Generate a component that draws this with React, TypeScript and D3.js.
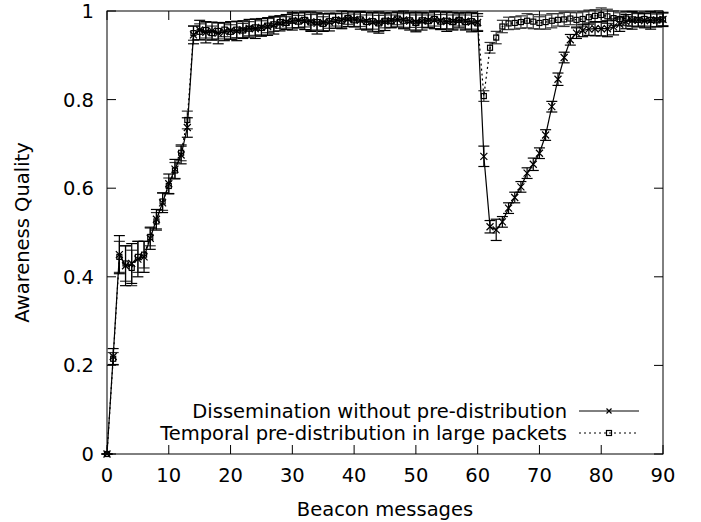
import React from "react";
import * as d3 from "d3";

// x = beacon message index 0..90
const series1Name = "Dissemination without pre-distribution";
const series2Name = "Temporal pre-distribution in large packets";

const s1: number[] = [
  0, 0.22, 0.45, 0.425, 0.43, 0.44, 0.445, 0.487, 0.53, 0.567,
  0.61, 0.643, 0.675, 0.737, 0.946, 0.957, 0.952, 0.955, 0.95, 0.953,
  0.956, 0.955, 0.958, 0.961, 0.96, 0.963, 0.965, 0.968, 0.972, 0.975,
  0.977, 0.979, 0.978, 0.976, 0.972, 0.974, 0.975, 0.978, 0.98, 0.982,
  0.981, 0.979, 0.977, 0.975, 0.974, 0.976, 0.979, 0.981, 0.98, 0.977,
  0.975, 0.977, 0.979, 0.98, 0.978, 0.976, 0.977, 0.979, 0.977, 0.975,
  0.974, 0.672, 0.513, 0.506, 0.524, 0.555, 0.579, 0.603, 0.634, 0.654,
  0.679, 0.72, 0.784, 0.846, 0.895, 0.935, 0.95, 0.956, 0.959, 0.96,
  0.96, 0.96, 0.964, 0.97, 0.976, 0.979, 0.98, 0.978, 0.979, 0.98,
  0.981,
];

const e1: number[] = [
  0, 0.018, 0.043, 0.045, 0.045, 0.04, 0.035, 0.025, 0.022, 0.022,
  0.022, 0.022, 0.02, 0.022, 0.02, 0.022, 0.024, 0.02, 0.024, 0.02,
  0.02, 0.022, 0.02, 0.02, 0.022, 0.02, 0.02, 0.02, 0.017, 0.017,
  0.02, 0.017, 0.02, 0.022, 0.024, 0.02, 0.02, 0.017, 0.02, 0.017,
  0.017, 0.02, 0.02, 0.022, 0.024, 0.02, 0.017, 0.017, 0.02, 0.02,
  0.022, 0.02, 0.017, 0.02, 0.02, 0.022, 0.02, 0.017, 0.02, 0.022,
  0.02, 0.023, 0.014, 0.024, 0.012, 0.012, 0.012, 0.012, 0.012, 0.014,
  0.012, 0.012, 0.012, 0.014, 0.012, 0.012, 0.012, 0.014, 0.014, 0.016,
  0.016, 0.018, 0.018, 0.016, 0.016, 0.02, 0.016, 0.016, 0.02, 0.016,
  0.016,
];

const s2: number[] = [
  0, 0.215, 0.445, 0.43, 0.42, 0.445, 0.45, 0.49, 0.525, 0.57,
  0.605, 0.64, 0.68, 0.754, 0.95, 0.953, 0.957, 0.95, 0.955, 0.958,
  0.953, 0.958, 0.956, 0.96, 0.963, 0.962, 0.967, 0.97, 0.975, 0.973,
  0.978, 0.976, 0.98, 0.974, 0.975, 0.971, 0.977, 0.98, 0.978, 0.984,
  0.979, 0.981, 0.975, 0.977, 0.972, 0.978, 0.977, 0.983, 0.978, 0.979,
  0.973, 0.979, 0.977, 0.982, 0.976, 0.978, 0.975, 0.98, 0.975, 0.977,
  0.972, 0.808, 0.917, 0.94, 0.965, 0.972, 0.973, 0.975, 0.978, 0.976,
  0.973, 0.975, 0.978, 0.98, 0.981, 0.983, 0.98, 0.982, 0.986, 0.989,
  0.991, 0.988, 0.984, 0.982, 0.983, 0.981, 0.98, 0.982, 0.98, 0.979,
  0.981,
];

const e2: number[] = [
  0, 0.014, 0.035, 0.04, 0.04, 0.035, 0.03, 0.02, 0.02, 0.02,
  0.018, 0.018, 0.018, 0.02, 0.016, 0.018, 0.018, 0.016, 0.018, 0.016,
  0.016, 0.018, 0.016, 0.016, 0.018, 0.016, 0.016, 0.016, 0.014, 0.014,
  0.016, 0.014, 0.016, 0.018, 0.018, 0.016, 0.016, 0.014, 0.016, 0.014,
  0.014, 0.016, 0.016, 0.018, 0.018, 0.016, 0.014, 0.014, 0.016, 0.016,
  0.018, 0.016, 0.014, 0.016, 0.016, 0.018, 0.016, 0.014, 0.016, 0.018,
  0.016, 0.012, 0.012, 0.014, 0.014, 0.014, 0.014, 0.014, 0.016, 0.016,
  0.014, 0.016, 0.016, 0.014, 0.016, 0.014, 0.016, 0.016, 0.016, 0.014,
  0.016, 0.016, 0.016, 0.014, 0.016, 0.016, 0.014, 0.016, 0.016, 0.014,
  0.014,
];

const xTicks: number[] = [0, 10, 20, 30, 40, 50, 60, 70, 80, 90];
const yTicks: number[] = [0, 0.2, 0.4, 0.6, 0.8, 1];

const W = 701;
const H = 522;
const L = 107;
const R = 663;
const T = 11;
const B = 454;
const FONT = "'DejaVu Sans', sans-serif";
const FS = 19.5;

export default function App() {
  const x = d3.scaleLinear().domain([0, 90]).range([L, R]);
  const y = d3.scaleLinear().domain([0, 1]).range([B, T]);
  const line = d3
    .line<number>()
    .x((_, i) => x(i))
    .y((d) => y(d));

  const cap = 5.5;
  const tickLen = 9;
  const sw = 1.2;

  const errBars = (vals: number[], errs: number[], color: string, key: string) =>
    vals.map((v, i) => {
      const cx = x(i);
      const y1 = y(v - errs[i]);
      const y2 = y(v + errs[i]);
      return (
        <g key={key + i} stroke={color} strokeWidth={sw} fill="none">
          <line x1={cx} x2={cx} y1={y1} y2={y2} />
          <line x1={cx - cap} x2={cx + cap} y1={y1} y2={y1} />
          <line x1={cx - cap} x2={cx + cap} y1={y2} y2={y2} />
        </g>
      );
    });

  const cross = (cx: number, cy: number, k: string, s = 3.5) => (
    <path
      key={k}
      d={`M${cx - s},${cy - s}L${cx + s},${cy + s}M${cx - s},${cy + s}L${cx + s},${cy - s}`}
      stroke="#000"
      strokeWidth={sw}
      fill="none"
    />
  );
  const square = (cx: number, cy: number, k: string) => (
    <rect
      key={k}
      x={cx - 2.5}
      y={cy - 2.5}
      width={5}
      height={5}
      stroke="#000"
      strokeWidth={sw}
      fill="none"
    />
  );

  return (
    <svg
      width={W}
      height={H}
      style={{ position: "absolute", left: 0, top: 0, background: "#fff" }}
      fontFamily={FONT}
    >
      <rect x={0} y={0} width={W} height={H} fill="#fff" />
      {/* ticks */}
      <g stroke="#000" strokeWidth={1}>
        {xTicks.map((t) => (
          <g key={"xt" + t}>
            <line x1={x(t)} x2={x(t)} y1={B} y2={B - tickLen} />
            <line x1={x(t)} x2={x(t)} y1={T} y2={T + tickLen} />
          </g>
        ))}
        {yTicks.map((t) => (
          <g key={"yt" + t}>
            <line x1={L} x2={L + tickLen} y1={y(t)} y2={y(t)} />
            <line x1={R} x2={R - tickLen} y1={y(t)} y2={y(t)} />
          </g>
        ))}
      </g>
      {/* tick labels */}
      <g fontSize={FS} fill="#000">
        {xTicks.map((t) => (
          <text key={"xl" + t} x={x(t)} y={482} textAnchor="middle">
            {t}
          </text>
        ))}
        {yTicks.map((t) => (
          <text key={"yl" + t} x={94} y={y(t)} dy="0.36em" textAnchor="end">
            {t}
          </text>
        ))}
      </g>
      <text x={(L + R) / 2} y={516} fontSize={FS} textAnchor="middle">
        Beacon messages
      </text>
      <text
        transform={`translate(29,${(T + B) / 2}) rotate(-90)`}
        fontSize={FS}
        textAnchor="middle"
      >
        Awareness Quality
      </text>

      {/* series 2 */}
      {errBars(s2, e2, "#333", "e2")}
      <path d={line(s2) || ""} fill="none" stroke="#000" strokeWidth={sw} strokeDasharray="2,3" />
      {s2.map((v, i) => square(x(i), y(v), "m2" + i))}

      {/* series 1 */}
      {errBars(s1, e1, "#000", "e1")}
      <path d={line(s1) || ""} fill="none" stroke="#000" strokeWidth={sw} />
      {s1.map((v, i) => cross(x(i), y(v), "m1" + i))}

      {/* legend */}
      <g fontSize={FS}>
        <text x={567} y={411} dy="0.36em" textAnchor="end">
          {series1Name}
        </text>
        <line x1={579} x2={639} y1={411} y2={411} stroke="#000" strokeWidth={1} />
        {cross(609, 411, "lg1", 2.5)}
        <text x={567} y={433} dy="0.36em" textAnchor="end">
          {series2Name}
        </text>
        <line x1={579} x2={639} y1={433} y2={433} stroke="#000" strokeWidth={1} strokeDasharray="2,3" />
        {square(609, 433, "lg2")}
      </g>

      {/* frame */}
      <rect x={L} y={T} width={R - L} height={B - T} fill="none" stroke="#000" strokeWidth={1} />
    </svg>
  );
}
